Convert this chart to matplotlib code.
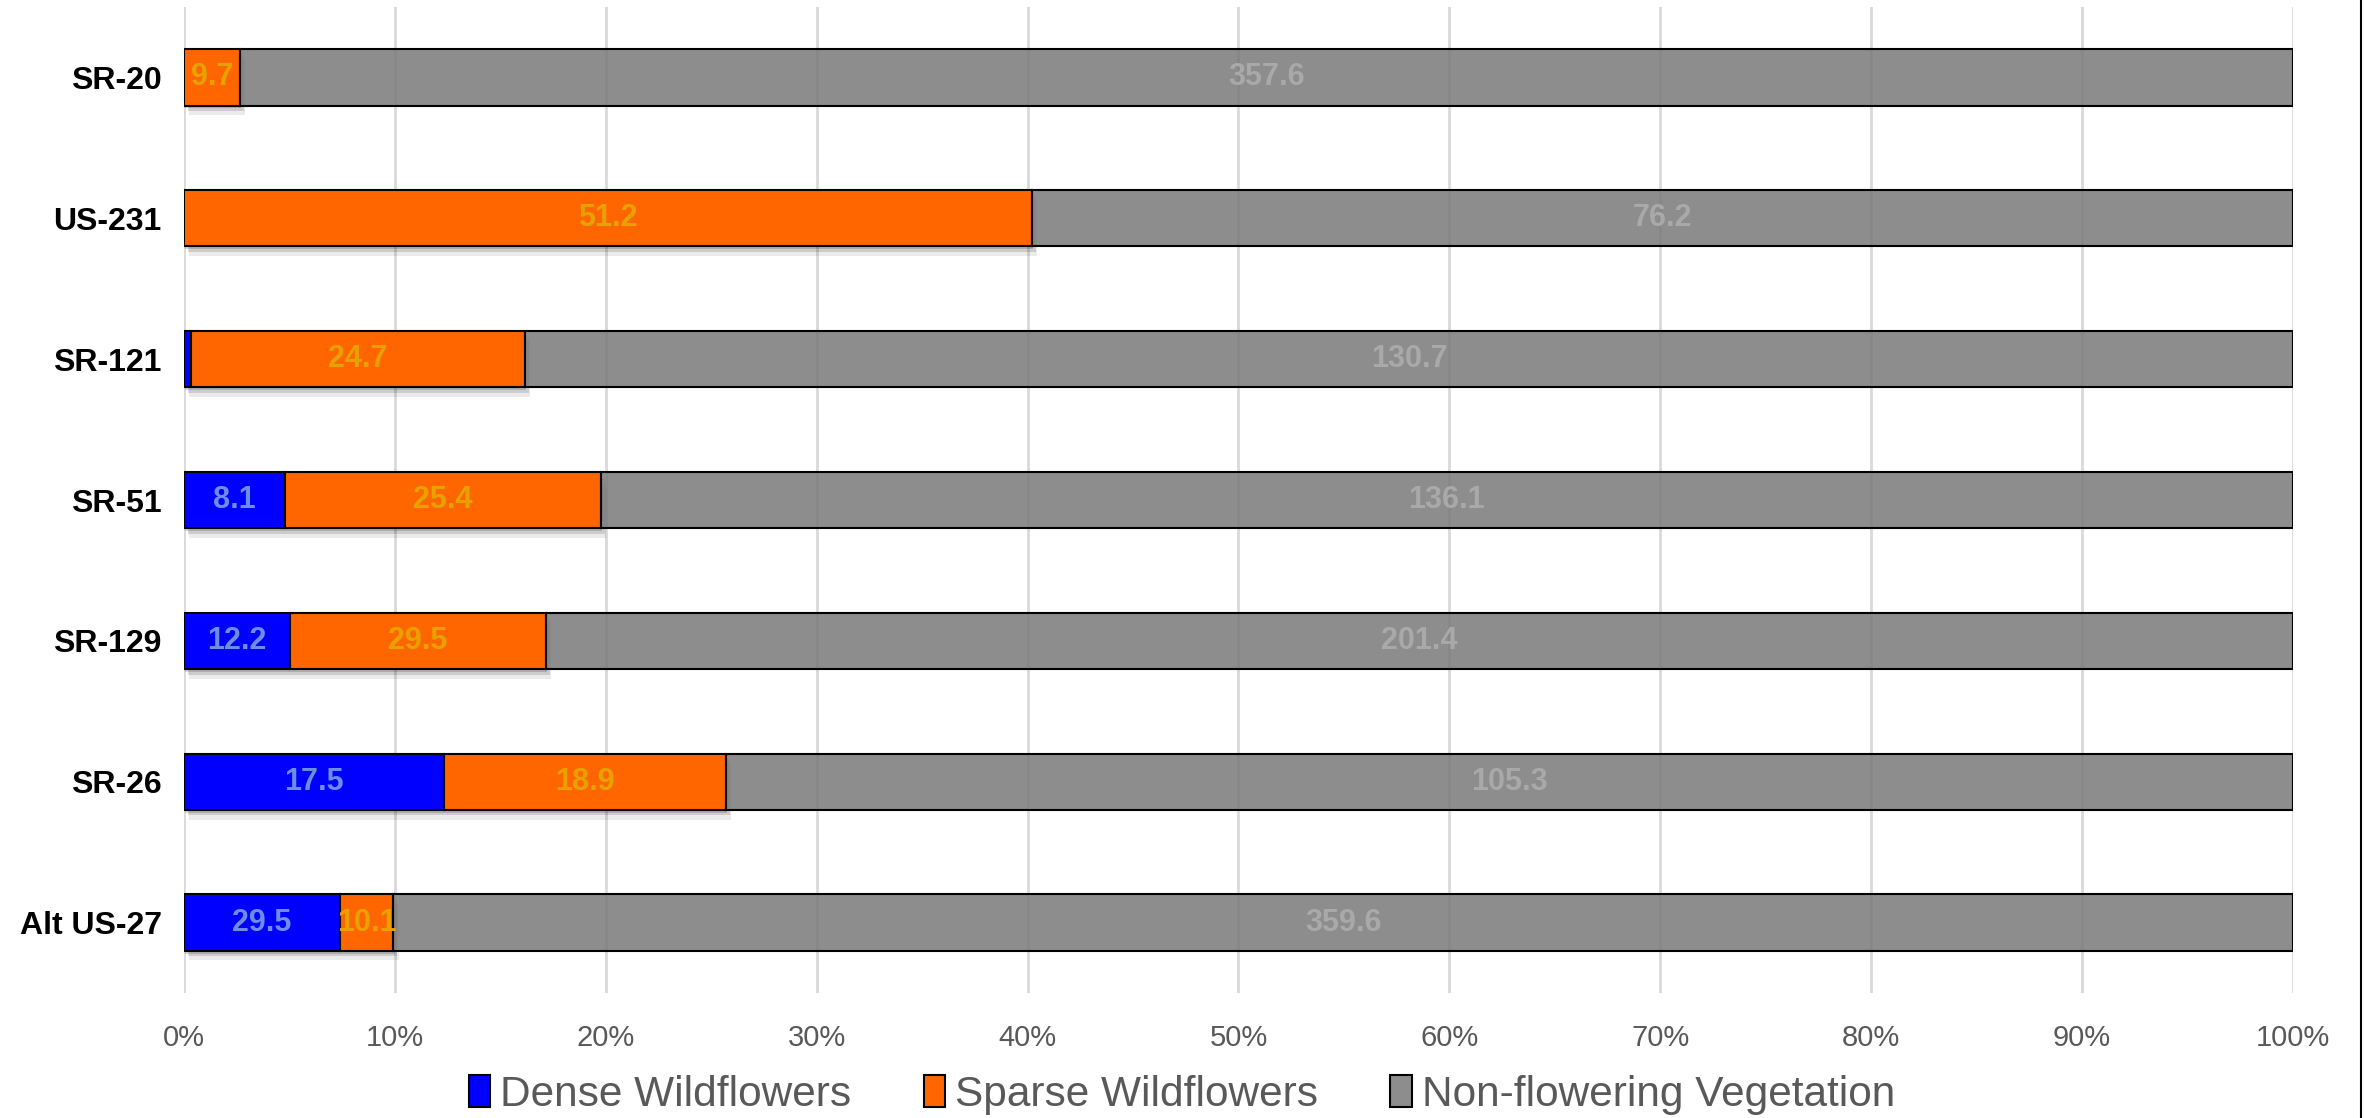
import matplotlib
matplotlib.use("Agg")
import matplotlib.pyplot as plt
import matplotlib.patheffects as pe
from matplotlib.lines import Line2D
import numpy as np

plt.rcParams['font.family'] = ['Liberation Sans', 'DejaVu Sans']

# data, top row first
routes = ['SR-20', 'US-231', 'SR-121', 'SR-51', 'SR-129', 'SR-26', 'Alt US-27']
dense = [0.0, 0.0, 0.5, 8.1, 12.2, 17.5, 29.5]
sparse = [9.7, 51.2, 24.7, 25.4, 29.5, 18.9, 10.1]
nonflower = [357.6, 76.2, 130.7, 136.1, 201.4, 105.3, 359.6]
series_names = ['Dense Wildflowers', 'Sparse Wildflowers', 'Non-flowering Vegetation']
xticks = [0, 10, 20, 30, 40, 50, 60, 70, 80, 90, 100]

face = ['#0000ff', '#ff6600', (0.478, 0.478, 0.478, 0.86)]
label_col = ['#6b8ee8', '#e8a200', '#a9a9a9']

vals = np.array([dense, sparse, nonflower])
pct = vals / vals.sum(axis=0) * 100

fig = plt.figure(figsize=(23.64, 11.18), dpi=100)
ax = fig.add_axes([0.0778, 0.1118, 0.8922, 0.8819])

y = np.arange(len(routes))
# soft-ish drop shadow under the coloured segments
shadow = [pe.SimplePatchShadow(offset=(1, -2), shadow_rgbFace='k', alpha=0.15),
          pe.SimplePatchShadow(offset=(3, -4), shadow_rgbFace='k', alpha=0.13),
          pe.SimplePatchShadow(offset=(4, -7), shadow_rgbFace='k', alpha=0.08),
          pe.Normal()]

left = np.zeros(len(routes))
for i in range(3):
    bars = ax.barh(y, pct[i], left=left, height=0.4, color=face[i],
                   edgecolor='black', linewidth=1.5, label=series_names[i], zorder=3)
    if i < 2:
        for b, p in zip(bars, pct[i]):
            if p > 0:
                b.set_path_effects(shadow)
    for j in range(len(routes)):
        if pct[i][j] > 1:
            ax.text(left[j] + pct[i][j] / 2, y[j], f'{vals[i][j]:.1f}',
                    ha='center', va='center', fontsize=22, fontweight='bold',
                    color=label_col[i], zorder=5)
    left = left + pct[i]

ax.set_xlim(0, 100)
ax.set_ylim(len(routes) - 0.5, -0.5)
ax.set_yticks(y)
ax.set_yticklabels(routes, fontsize=23, fontweight='bold', color='black')
ax.set_xticks(xticks)
ax.set_xticklabels([f'{t}%' for t in xticks], fontsize=21, color='#595959')
ax.tick_params(length=0, axis='x', pad=22)
ax.tick_params(length=0, axis='y', pad=16)
ax.grid(axis='x', color='#d9d9d9', linewidth=2, zorder=0)
ax.set_axisbelow(True)
for s in ax.spines.values():
    s.set_visible(False)

leg = fig.legend(loc='center', bbox_to_anchor=(0.5, 0.021), ncol=3, frameon=False,
                 fontsize=30.5, handlelength=0.5, handleheight=0.8,
                 handletextpad=0.25, columnspacing=1.7, borderpad=0, borderaxespad=0)
for t in leg.get_texts():
    t.set_color('#595959')
for h in leg.legend_handles:
    h.set_edgecolor('black')
    h.set_linewidth(1.5)
    h.set_path_effects([])

fig.add_artist(Line2D([0.9987, 0.9987], [0, 1], color='black', linewidth=1.5,
                      transform=fig.transFigure))

fig.savefig('out.png', dpi=100)
